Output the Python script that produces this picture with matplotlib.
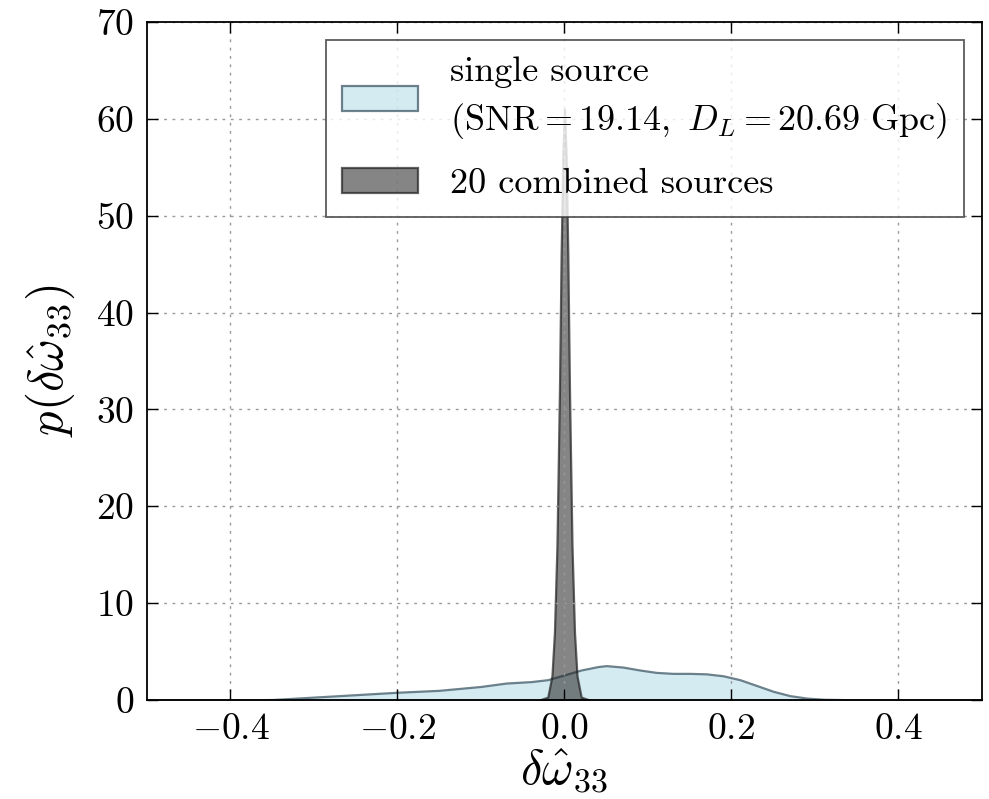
import matplotlib
matplotlib.use("Agg")
import matplotlib.pyplot as plt
import numpy as np

# single source posterior
single_x = [-0.50, -0.40, -0.35, -0.30, -0.25, -0.20, -0.15, -0.10, -0.07, -0.04, -0.02,
            0.00, 0.02, 0.04, 0.05, 0.07, 0.09, 0.11, 0.13, 0.15, 0.17, 0.19, 0.21,
            0.23, 0.25, 0.27, 0.29, 0.31, 0.35, 0.40, 0.50]
single_y = [0.0, 0.0, 0.05, 0.3, 0.55, 0.8, 1.0, 1.4, 1.75, 1.9, 2.1,
            2.6, 3.1, 3.45, 3.55, 3.4, 3.1, 2.85, 2.75, 2.75, 2.7, 2.5, 2.1,
            1.5, 0.9, 0.45, 0.2, 0.08, 0.02, 0.0, 0.0]

# 20 combined sources
comb_x = [-0.03, -0.02, -0.015, -0.012, -0.009, -0.006, -0.004, -0.002, 0.0,
          0.002, 0.004, 0.006, 0.009, 0.012, 0.015, 0.02, 0.03]
comb_y = [0.0, 0.3, 2.5, 7.0, 16.0, 32.0, 46.0, 56.0, 61.0,
          56.0, 46.0, 32.0, 16.0, 7.0, 2.5, 0.3, 0.0]

plt.rcParams["font.family"] = "serif"
plt.rcParams["font.serif"] = ["cmr10", "DejaVu Serif"]
plt.rcParams["mathtext.fontset"] = "cm"
plt.rcParams["axes.formatter.use_mathtext"] = True
plt.rcParams["axes.unicode_minus"] = True

fig = plt.figure(figsize=(9.89, 7.99), dpi=100)
ax = fig.add_axes([0.1486, 0.1239, 0.8443, 0.8486])

ax.fill_between(single_x, single_y, facecolor=(0.68, 0.85, 0.90, 0.5),
                edgecolor=(0.25, 0.35, 0.40, 0.75), linewidth=1.6,
                label="single source\n$(\\mathrm{SNR}=19.14,\\ D_L=20.69\\ \\mathrm{Gpc})$")
ax.fill_between(comb_x, comb_y, facecolor=(0.13, 0.13, 0.13, 0.55),
                edgecolor=(0.13, 0.13, 0.13, 0.7), linewidth=1.6,
                label="20 combined sources")

ax.set_xlim(-0.5, 0.5)
ax.set_ylim(0, 70)
ax.set_xticks([-0.4, -0.2, 0.0, 0.2, 0.4])
ax.set_yticks(range(0, 71, 10))
ax.tick_params(direction="in", top=True, right=True, length=8, width=1,
               labelsize=27, pad=9)
ax.grid(True, linestyle=(0, (2, 4)), color="#999999", linewidth=1)
for s in ax.spines.values():
    s.set_linewidth(1.3)

ax.set_xlabel("$\\delta\\hat{\\omega}_{33}$", fontsize=35, labelpad=0)
ax.set_ylabel("$p(\\delta\\hat{\\omega}_{33})$", fontsize=35, labelpad=14)

leg = ax.legend(loc="upper right", fontsize=26, fancybox=False,
                borderaxespad=0.5, borderpad=0.45, handlelength=2.1,
                handleheight=0.7, handletextpad=0.9, labelspacing=0.75)
for t in leg.get_texts():
    t.set_linespacing(1.45)
leg.get_frame().set_edgecolor("#333333")
leg.get_frame().set_linewidth(1.3)

fig.savefig("out.png", dpi=100, facecolor="white")
